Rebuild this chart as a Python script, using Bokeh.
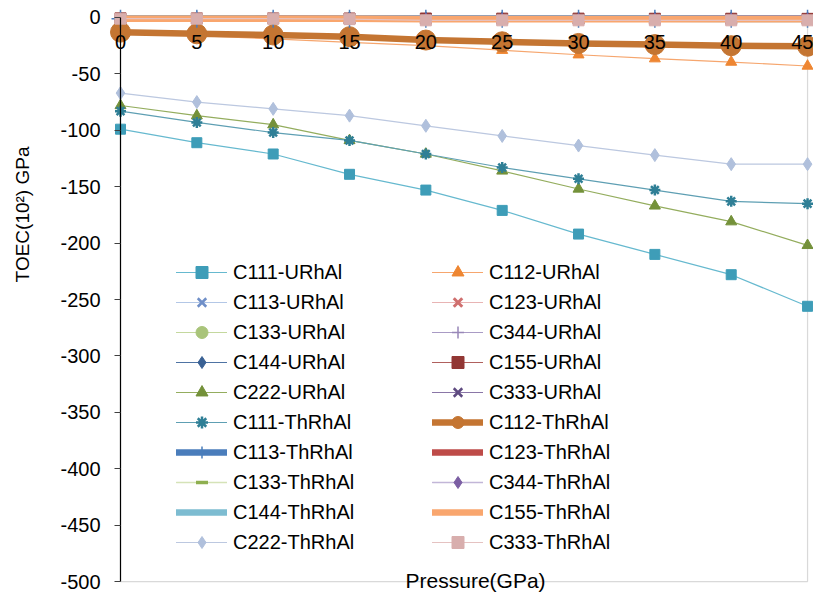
import math
from bokeh.plotting import figure
from bokeh.models import Range1d, FixedTicker, Legend, LegendItem, BoxAnnotation, Label
from bokeh.embed import file_html
from bokeh.resources import INLINE

# ---------------- data ----------------
pressure = [0, 5, 10, 15, 20, 25, 30, 35, 40, 45]

c111_u = [-99, -111, -121, -139, -153, -171, -192, -210, -228, -256]
c112_u = [-13, -16, -19, -22, -25, -29, -33, -36.5, -39.5, -43]
c113_u = [-1.2, -1.3, -1.4, -1.5, -1.6, -1.7, -1.8, -1.9, -2.0, -2.1]
c123_u = [-0.8, -0.9, -1.0, -1.1, -1.2, -1.3, -1.4, -1.5, -1.6, -1.7]
c133_u = [-1.0, -1.1, -1.2, -1.3, -1.4, -1.5, -1.6, -1.7, -1.8, -1.9]
c344_u = [-0.5, -0.5, -0.6, -0.6, -0.7, -0.7, -0.8, -0.8, -0.9, -0.9]
c144_u = [-0.6, -0.6, -0.7, -0.7, -0.8, -0.8, -0.9, -0.9, -1.0, -1.0]
c155_u = [-0.7, -0.8, -0.8, -0.9, -0.9, -1.0, -1.0, -1.1, -1.1, -1.2]
c222_u = [-78, -87, -95, -109, -121, -136, -152, -167, -181, -202]
c333_u = [-1.1, -1.1, -1.2, -1.2, -1.3, -1.3, -1.4, -1.4, -1.5, -1.5]

c111_t = [-83, -93, -102, -109, -121, -133, -143, -153, -163, -165]
c112_t = [-13, -14.5, -15.5, -17, -20, -21.5, -23, -24, -25, -25.5]
c113_t = [-1.0, -1.0, -1.0, -1.0, -1.0, -1.0, -1.0, -1.1, -1.1, -1.1]
c123_t = [-0.9, -0.9, -0.9, -1.0, -1.0, -1.0, -1.1, -1.1, -1.1, -1.2]
c133_t = [-0.8, -0.8, -0.9, -0.9, -1.0, -1.0, -1.0, -1.1, -1.1, -1.1]
c344_t = [-0.6, -0.6, -0.6, -0.7, -0.7, -0.8, -0.8, -0.8, -0.9, -0.9]
c144_t = [-0.9, -0.9, -1.0, -1.0, -1.1, -1.1, -1.2, -1.2, -1.3, -1.3]
c155_t = [-1.0, -1.0, -1.0, -1.0, -1.5, -1.5, -1.5, -1.5, -1.5, -1.5]
c222_t = [-67, -75, -81, -87, -96, -105, -113.5, -122, -130, -130]
c333_t = [-1.0, -1.0, -1.0, -1.5, -2.5, -2.5, -2.5, -2.5, -2.5, -2.5]

y_ticks = [-500, -450, -400, -350, -300, -250, -200, -150, -100, -50, 0]

FONT = "Liberation Sans"

# name, values, line color, line width, marker, marker color, marker size, marker line width
series = [
    ("C111-URhAl", c111_u, "#66B9CF", 1.2, "square", "#3E9DB8", 10, 1),
    ("C112-URhAl", c112_u, "#F6A66E", 1.2, "triangle", "#EE8632", 11, 1),
    ("C113-URhAl", c113_u, "#B3C7E6", 1.2, "x", "#6F8FC8", 10, 2.5),
    ("C123-URhAl", c123_u, "#E8B4B4", 1.2, "x", "#CF6F6E", 10, 3),
    ("C133-URhAl", c133_u, "#C4D89E", 1.2, "circle", "#A9C47A", 11, 1),
    ("C344-URhAl", c344_u, "#A99BC5", 1.2, "cross", "#9887B8", 12, 1.5),
    ("C144-URhAl", c144_u, "#4E73A3", 1.2, "diamond", "#3A6194", 13, 1),
    ("C155-URhAl", c155_u, "#B0605D", 1.2, "square", "#923734", 11, 1),
    ("C222-URhAl", c222_u, "#94AD5E", 1.2, "triangle", "#74913A", 11, 1),
    ("C333-URhAl", c333_u, "#8A76A7", 1.2, "x", "#5E4A80", 10, 2.5),
    ("C111-ThRhAl", c111_t, "#5E9FB3", 1.2, "asterisk", "#2F7F96", 11, 2.5),
    ("C112-ThRhAl", c112_t, "#C47532", 6.5, "circle", "#C47532", 20, 1),
    ("C113-ThRhAl", c113_t, "#4A7DBB", 6.5, "cross", "#4A7DBB", 18, 1.5),
    ("C123-ThRhAl", c123_t, "#BE4B48", 6.5, None, None, 0, 0),
    ("C133-ThRhAl", c133_t, "#D5E3B8", 1.5, "dash", "#8EAF4F", 11, 3.5),
    ("C344-ThRhAl", c344_t, "#C2B6D8", 1.5, "diamond", "#7B5EA3", 10, 1),
    ("C144-ThRhAl", c144_t, "#7DBCD1", 6.5, None, None, 0, 0),
    ("C155-ThRhAl", c155_t, "#F9A66E", 6.5, None, None, 0, 0),
    ("C222-ThRhAl", c222_t, "#BCC8E0", 1.2, "diamond", "#B0C0DC", 13, 1),
    ("C333-ThRhAl", c333_t, "#E5C2C1", 1.2, "square", "#D8AEAD", 11, 1),
]

# frame covers the whole canvas; axes sit at x = 0 and y = 0
p = figure(width=813, height=594, output_backend="svg", toolbar_location=None,
           x_range=Range1d(-7.86, 45.39), y_range=Range1d(-511.5, 15.07),
           min_border_left=0, min_border_right=0, min_border_top=0,
           min_border_bottom=0, title=None)
p.xgrid.visible = False
p.ygrid.visible = False
p.outline_line_color = None
p.background_fill_color = "white"

xa = p.xaxis[0]
xa.fixed_location = 0
xa.ticker = FixedTicker(ticks=pressure)
xa.bounds = (0, 45)
xa.axis_line_color = None
xa.major_tick_out = 0
xa.major_tick_in = 0
xa.minor_tick_line_color = None
xa.major_label_standoff = 18
xa.major_label_text_font = FONT
xa.major_label_text_font_size = "20px"
xa.major_label_text_color = "black"

ya = p.yaxis[0]
ya.fixed_location = 0
ya.ticker = FixedTicker(ticks=y_ticks)
ya.bounds = (-500, 0)
ya.axis_line_color = "black"
ya.axis_line_width = 1.2
ya.major_tick_out = 6
ya.major_tick_in = 0
ya.major_tick_line_color = "#404040"
ya.minor_tick_line_color = None
ya.major_label_standoff = 14
ya.major_label_text_font = FONT
ya.major_label_text_font_size = "20px"
ya.major_label_text_color = "black"
ya.major_label_overrides = {t: str(t) for t in y_ticks}

# plot-area border
p.add_layout(BoxAnnotation(left=0, right=45, bottom=-500, top=0, fill_color=None,
                           fill_alpha=0, line_color="#808080", line_width=1.2,
                           level="underlay"))

items = []
for name, vals, lc, lw, mk, mc, ms, mlw in series:
    rs = []
    rl = p.line(pressure, vals, line_color=lc, line_width=lw, line_cap="round", line_join="round")
    rs.append(rl)
    if mk is not None:
        rm = p.scatter(pressure, vals, marker=mk, size=ms, fill_color=mc, line_color=mc,
                       line_width=mlw)
        rs.append(rm)
    items.append(LegendItem(label=name, renderers=rs))

col1 = items[0::2]
col2 = items[1::2]

def make_legend(its, x):
    return Legend(items=its, location=(x, 37), orientation="vertical",
                  label_text_font=FONT, label_text_font_size="20px",
                  label_text_color="black",
                  glyph_width=51, glyph_height=30, label_height=30,
                  label_standoff=6, spacing=0, padding=0, margin=0,
                  border_line_color=None, background_fill_alpha=0)

p.add_layout(make_legend(col1, 176))
p.add_layout(make_legend(col2, 432))

# axis titles
p.add_layout(Label(x=-6.42, y=-174.6, text="TOEC(10²) GPa", angle=math.pi / 2,
                   text_align="center", text_baseline="middle",
                   text_font=FONT, text_font_size="19px", text_color="black"))
p.add_layout(Label(x=18.67, y=-499.3, text="Pressure(GPa)",
                   text_align="left", text_baseline="alphabetic",
                   text_font=FONT, text_font_size="21px", text_color="black"))

open("out.html", "w").write(file_html(p, INLINE))
